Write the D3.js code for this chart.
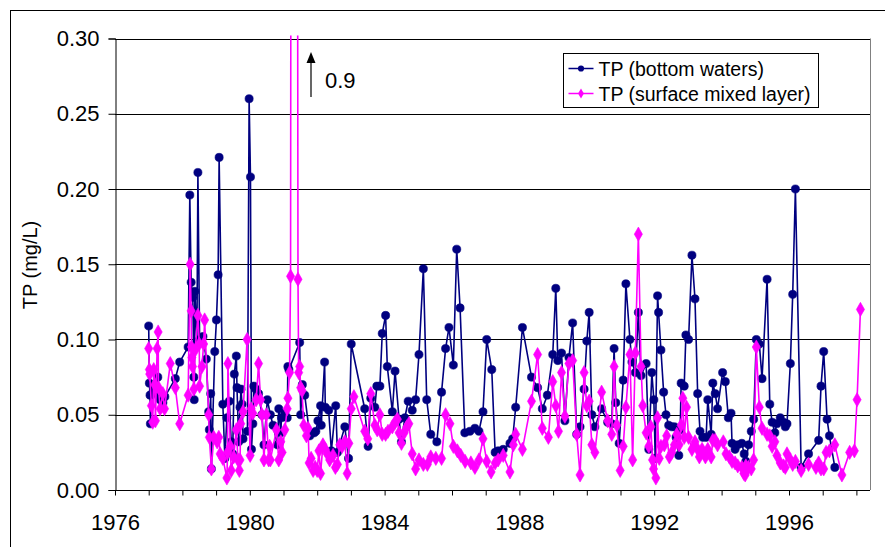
<!DOCTYPE html>
<html>
<head>
<meta charset="utf-8">
<script src="https://cdn.jsdelivr.net/npm/d3@7"></script>
<style>
  body { margin: 0; background: #fff; }
  text { font-family: "Liberation Sans", Arial, sans-serif; fill: #000; }
</style>
</head>
<body>
<div id="chart-area"></div>
<script>
// TP (mg/L), [decimal year, value]
const bottomWaters = [
  [1977.00,0.109],[1977.02,0.071],[1977.04,0.063],[1977.05,0.044],[1977.10,0.064],[1977.16,0.068],[1977.27,0.075],
  [1977.30,0.062],[1977.34,0.060],[1977.42,0.058],[1977.48,0.062],[1977.79,0.074],[1977.92,0.085],[1978.17,0.095],
  [1978.22,0.196],[1978.26,0.138],[1978.31,0.128],[1978.34,0.075],[1978.35,0.060],[1978.37,0.132],[1978.43,0.098],
  [1978.46,0.211],[1978.51,0.100],[1978.55,0.099],[1978.61,0.102],[1978.71,0.087],[1978.78,0.052],[1978.80,0.040],
  [1978.84,0.064],[1978.86,0.014],[1978.96,0.092],[1979.01,0.113],[1979.06,0.143],[1979.09,0.221],[1979.20,0.057],
  [1979.26,0.021],[1979.32,0.048],[1979.39,0.059],[1979.45,0.032],[1979.49,0.024],[1979.54,0.077],[1979.60,0.089],
  [1979.62,0.068],[1979.67,0.032],[1979.71,0.055],[1979.74,0.067],[1979.77,0.057],[1979.80,0.034],[1979.93,0.039],
  [1979.98,0.260],[1980.02,0.208],[1980.05,0.027],[1980.09,0.044],[1980.12,0.069],[1980.18,0.067],[1980.26,0.064],
  [1980.36,0.050],[1980.42,0.030],[1980.52,0.060],[1980.61,0.050],[1980.69,0.043],[1980.82,0.030],[1980.86,0.054],
  [1980.92,0.038],[1980.94,0.048],[1981.04,0.051],[1981.11,0.048],[1981.13,0.082],[1981.16,0.080],[1981.48,0.098],
  [1981.51,0.050],[1981.56,0.070],[1981.63,0.063],[1981.78,0.036],[1981.91,0.038],[1981.96,0.039],[1982.02,0.046],
  [1982.10,0.056],[1982.12,0.043],[1982.22,0.085],[1982.24,0.055],[1982.34,0.053],[1982.42,0.026],[1982.55,0.056],
  [1982.60,0.025],[1982.82,0.042],[1982.93,0.021],[1983.01,0.097],[1983.41,0.054],[1983.51,0.029],[1983.59,0.061],
  [1983.71,0.055],[1983.77,0.069],[1983.86,0.069],[1983.93,0.104],[1984.03,0.116],[1984.08,0.082],[1984.23,0.052],
  [1984.31,0.079],[1984.43,0.047],[1984.50,0.032],[1984.60,0.048],[1984.70,0.059],[1984.82,0.053],[1984.92,0.060],
  [1985.02,0.090],[1985.15,0.147],[1985.25,0.060],[1985.37,0.037],[1985.55,0.032],[1985.69,0.065],[1985.81,0.094],
  [1985.91,0.108],[1986.04,0.083],[1986.14,0.160],[1986.24,0.121],[1986.38,0.038],[1986.53,0.039],[1986.68,0.041],
  [1986.80,0.039],[1986.92,0.052],[1987.03,0.100],[1987.18,0.080],[1987.28,0.025],[1987.37,0.026],[1987.52,0.027],
  [1987.72,0.031],[1987.80,0.034],[1987.89,0.055],[1988.09,0.108],[1988.36,0.075],[1988.54,0.068],[1988.68,0.054],
  [1988.83,0.063],[1988.99,0.090],[1989.08,0.134],[1989.14,0.086],[1989.25,0.091],[1989.35,0.046],[1989.47,0.088],
  [1989.58,0.111],[1989.70,0.037],[1989.80,0.042],[1989.92,0.067],[1990.00,0.099],[1990.07,0.118],[1990.15,0.050],
  [1990.24,0.042],[1990.44,0.054],[1990.62,0.045],[1990.74,0.044],[1990.81,0.094],[1990.86,0.058],[1990.96,0.031],
  [1991.08,0.073],[1991.16,0.137],[1991.28,0.100],[1991.34,0.085],[1991.44,0.078],[1991.53,0.118],[1991.61,0.076],
  [1991.76,0.084],[1991.84,0.027],[1991.93,0.078],[1991.99,0.060],[1992.03,0.021],[1992.10,0.129],[1992.13,0.118],
  [1992.20,0.093],[1992.28,0.065],[1992.35,0.050],[1992.43,0.043],[1992.52,0.042],[1992.60,0.042],[1992.65,0.035],
  [1992.73,0.023],[1992.77,0.040],[1992.80,0.071],[1992.89,0.069],[1992.94,0.103],[1993.02,0.100],[1993.12,0.156],
  [1993.21,0.127],[1993.29,0.064],[1993.36,0.039],[1993.44,0.035],[1993.54,0.035],[1993.59,0.060],[1993.69,0.037],
  [1993.74,0.071],[1993.81,0.064],[1993.88,0.054],[1994.03,0.078],[1994.11,0.072],[1994.20,0.048],[1994.28,0.051],
  [1994.31,0.031],[1994.40,0.027],[1994.48,0.030],[1994.60,0.031],[1994.67,0.024],[1994.72,0.019],[1994.80,0.030],
  [1994.88,0.039],[1994.95,0.047],[1995.03,0.100],[1995.12,0.097],[1995.20,0.074],[1995.35,0.140],[1995.43,0.057],
  [1995.50,0.045],[1995.58,0.038],[1995.64,0.044],[1995.74,0.048],[1995.84,0.045],[1995.89,0.042],[1995.94,0.044],
  [1996.04,0.084],[1996.11,0.130],[1996.19,0.200],[1996.36,0.015],[1996.58,0.024],[1996.88,0.033],[1996.95,0.069],
  [1997.03,0.092],[1997.13,0.047],[1997.20,0.036],[1997.36,0.015]
];

const surfaceMixed = [
  [1977.00,0.094],[1977.02,0.080],[1977.03,0.077],[1977.08,0.056],[1977.12,0.045],[1977.15,0.080],[1977.18,0.070],
  [1977.20,0.046],[1977.25,0.094],[1977.28,0.105],[1977.29,0.068],[1977.34,0.054],[1977.42,0.064],[1977.47,0.054],
  [1977.64,0.084],[1977.79,0.068],[1977.92,0.044],[1978.17,0.063],[1978.23,0.150],[1978.26,0.119],[1978.27,0.095],
  [1978.28,0.088],[1978.30,0.082],[1978.34,0.067],[1978.38,0.093],[1978.46,0.116],[1978.50,0.097],[1978.51,0.069],
  [1978.58,0.082],[1978.63,0.097],[1978.66,0.113],[1978.78,0.050],[1978.80,0.035],[1978.86,0.014],[1978.93,0.035],
  [1979.03,0.032],[1979.08,0.035],[1979.12,0.024],[1979.20,0.021],[1979.32,0.008],[1979.34,0.025],[1979.35,0.084],
  [1979.42,0.029],[1979.45,0.013],[1979.52,0.022],[1979.60,0.040],[1979.65,0.020],[1979.69,0.013],[1979.71,0.020],
  [1979.73,0.044],[1979.80,0.052],[1979.92,0.100],[1980.01,0.023],[1980.04,0.054],[1980.09,0.051],[1980.19,0.060],
  [1980.26,0.084],[1980.32,0.060],[1980.36,0.050],[1980.42,0.020],[1980.49,0.050],[1980.56,0.020],[1980.59,0.029],
  [1980.61,0.020],[1980.79,0.040],[1980.86,0.020],[1980.92,0.032],[1980.96,0.025],[1981.04,0.040],[1981.11,0.054],
  [1981.13,0.061],[1981.18,0.078],[1981.21,0.142],[1981.24,0.900],[1981.39,0.900],[1981.43,0.140],[1981.45,0.078],
  [1981.48,0.082],[1981.51,0.068],[1981.55,0.066],[1981.60,0.043],[1981.68,0.036],[1981.73,0.041],[1981.76,0.018],
  [1981.82,0.021],[1981.88,0.013],[1981.94,0.015],[1982.00,0.013],[1982.05,0.026],[1982.10,0.011],[1982.17,0.030],
  [1982.24,0.027],[1982.30,0.024],[1982.37,0.020],[1982.47,0.023],[1982.54,0.015],[1982.60,0.017],[1982.67,0.030],
  [1982.74,0.029],[1982.82,0.032],[1982.89,0.011],[1982.94,0.031],[1983.01,0.054],[1983.09,0.062],[1983.41,0.039],
  [1983.50,0.034],[1983.59,0.064],[1983.71,0.043],[1983.78,0.040],[1983.86,0.050],[1983.93,0.037],[1984.03,0.037],
  [1984.10,0.039],[1984.23,0.042],[1984.31,0.045],[1984.38,0.047],[1984.43,0.038],[1984.50,0.031],[1984.58,0.038],
  [1984.66,0.042],[1984.72,0.044],[1984.82,0.024],[1984.92,0.014],[1985.02,0.020],[1985.15,0.017],[1985.27,0.017],
  [1985.37,0.022],[1985.52,0.021],[1985.69,0.021],[1985.81,0.050],[1985.94,0.044],[1986.04,0.029],[1986.16,0.026],
  [1986.26,0.023],[1986.39,0.019],[1986.56,0.018],[1986.68,0.015],[1986.80,0.020],[1986.92,0.034],[1987.03,0.019],
  [1987.16,0.012],[1987.28,0.018],[1987.37,0.020],[1987.52,0.023],[1987.72,0.012],[1987.82,0.030],[1987.89,0.037],
  [1988.09,0.027],[1988.36,0.059],[1988.54,0.090],[1988.68,0.041],[1988.86,0.035],[1988.99,0.072],[1989.08,0.056],
  [1989.16,0.039],[1989.25,0.078],[1989.35,0.049],[1989.47,0.084],[1989.58,0.086],[1989.70,0.037],[1989.80,0.010],
  [1989.92,0.078],[1990.00,0.056],[1990.07,0.059],[1990.15,0.030],[1990.24,0.025],[1990.44,0.065],[1990.62,0.046],
  [1990.74,0.037],[1990.81,0.082],[1990.89,0.043],[1990.99,0.013],[1991.08,0.029],[1991.16,0.055],[1991.28,0.090],
  [1991.36,0.020],[1991.44,0.091],[1991.53,0.170],[1991.61,0.082],[1991.66,0.056],[1991.76,0.038],[1991.84,0.029],
  [1991.90,0.042],[1991.95,0.020],[1991.98,0.014],[1992.05,0.008],[1992.10,0.048],[1992.15,0.021],[1992.20,0.029],
  [1992.30,0.030],[1992.37,0.036],[1992.45,0.022],[1992.52,0.025],[1992.60,0.030],[1992.67,0.037],[1992.74,0.030],
  [1992.80,0.043],[1992.85,0.061],[1992.89,0.035],[1992.96,0.055],[1993.02,0.035],[1993.12,0.027],[1993.21,0.032],
  [1993.29,0.027],[1993.34,0.022],[1993.42,0.027],[1993.52,0.022],[1993.59,0.027],[1993.69,0.022],[1993.74,0.033],
  [1993.81,0.033],[1993.88,0.030],[1994.05,0.032],[1994.13,0.024],[1994.23,0.022],[1994.31,0.019],[1994.40,0.018],
  [1994.48,0.016],[1994.60,0.015],[1994.66,0.011],[1994.70,0.010],[1994.72,0.016],[1994.80,0.015],[1994.88,0.014],
  [1994.95,0.020],[1995.03,0.095],[1995.12,0.055],[1995.20,0.041],[1995.35,0.037],[1995.43,0.036],[1995.50,0.029],
  [1995.58,0.032],[1995.64,0.023],[1995.74,0.018],[1995.84,0.016],[1995.89,0.015],[1995.94,0.024],[1996.04,0.020],
  [1996.11,0.017],[1996.19,0.019],[1996.36,0.013],[1996.58,0.017],[1996.80,0.015],[1996.88,0.018],[1996.95,0.014],
  [1997.03,0.014],[1997.10,0.025],[1997.20,0.026],[1997.36,0.030],[1997.57,0.010],[1997.80,0.025],[1997.94,0.026],
  [1998.02,0.060],[1998.12,0.120]
];

const seriesNames = ["TP (bottom waters)", "TP (surface mixed layer)"];
const seriesColors = ["#000080", "#ff00ff"];
const yTicks = [0, 0.05, 0.10, 0.15, 0.20, 0.25, 0.30];
const xLabelYears = [1976, 1980, 1984, 1988, 1992, 1996];
const xTickYears = d3.range(1976, 1999);
const offScaleLabel = "0.9";

const chart = {
  totalWidth: 885,
  totalHeight: 547,
  plotLeft: 115,
  plotRight: 870,
  plotTop: 38.5,
  plotBottom: 490,

  svg: undefined,
  xScale: undefined,
  yScale: undefined,

  setup: function() {
    this.svg = d3.select("#chart-area")
      .append("svg")
        .attr("width", this.totalWidth)
        .attr("height", this.totalHeight);

    this.svg.append("rect")
      .attr("width", this.totalWidth)
      .attr("height", this.totalHeight)
      .attr("fill", "#fff");

    // outer chart border
    this.svg.append("rect")
      .attr("x", 10.5).attr("y", 10.5)
      .attr("width", 900).attr("height", 600)
      .attr("fill", "none")
      .attr("stroke", "#000");

    this.xScale = d3.scaleLinear()
      .domain([1976, 1976 + (this.plotRight - this.plotLeft) / 33.7])
      .range([this.plotLeft, this.plotRight]);

    this.yScale = d3.scaleLinear()
      .domain([0, 0.3])
      .range([this.plotBottom, this.plotTop]);

    this.svg.append("defs").append("clipPath")
      .attr("id", "plot-clip")
      .append("rect")
        .attr("x", this.plotLeft - 6)
        .attr("y", this.plotTop - 3)
        .attr("width", this.plotRight - this.plotLeft + 6)
        .attr("height", this.plotBottom - this.plotTop + 10);
  },

  addAxes: function() {
    const y = this.yScale, x = this.xScale;

    // gridlines
    this.svg.append("g").selectAll("line")
      .data(yTicks.filter(d => d > 0))
      .join("line")
        .attr("x1", this.plotLeft).attr("x2", this.plotRight)
        .attr("y1", d => Math.round(y(d)) + 0.5)
        .attr("y2", d => Math.round(y(d)) + 0.5)
        .attr("stroke", "#000");

    // right plot border
    this.svg.append("line")
      .attr("x1", this.plotRight + 0.5).attr("x2", this.plotRight + 0.5)
      .attr("y1", this.plotTop).attr("y2", this.plotBottom)
      .attr("stroke", "#808080");

    const yAxisCall = d3.axisLeft(y)
      .tickValues(yTicks)
      .tickSize(7)
      .tickPadding(9)
      .tickFormat(d3.format(".2f"));
    const yAxis = this.svg.append("g")
      .attr("transform", "translate(" + (this.plotLeft + 0.5) + ",0)")
      .call(yAxisCall);

    const xAxisCall = d3.axisBottom(x)
      .tickValues(xTickYears)
      .tickSize(5)
      .tickPadding(19)
      .tickFormat(d => xLabelYears.includes(d) ? d : "");
    const xAxis = this.svg.append("g")
      .attr("transform", "translate(0," + (this.plotBottom + 0.5) + ")")
      .call(xAxisCall);

    [yAxis, xAxis].forEach(a => {
      a.select(".domain").attr("stroke", "#000");
      a.selectAll(".tick line").attr("stroke", "#000");
      a.selectAll("text")
        .attr("font-size", "22px")
        .attr("font-family", "'Liberation Sans', Arial, sans-serif")
        .attr("fill", "#000");
    });
    xAxis.select(".domain").attr("d", "M" + this.plotLeft + ",0H" + this.plotRight);

    // y label
    this.svg.append("text")
      .attr("transform", "rotate(-90)")
      .attr("x", -265)
      .attr("y", 37)
      .attr("font-size", "20px")
      .attr("text-anchor", "middle")
      .text("TP (mg/L)");
  },

  addSeries: function(data, i) {
    const x = this.xScale, y = this.yScale;
    const g = this.svg.append("g").attr("clip-path", "url(#plot-clip)");

    const line = d3.line()
      .x(d => x(d[0]))
      .y(d => y(d[1]));

    g.append("path")
      .datum(data)
      .attr("fill", "none")
      .attr("stroke", seriesColors[i])
      .attr("stroke-width", 1.6)
      .attr("stroke-linejoin", "round")
      .attr("d", line);

    const symbol = i === 0
      ? d3.symbol().type(d3.symbolCircle).size(52)
      : d3.symbol().type(d3.symbolDiamond).size(58);

    g.selectAll(".marker")
      .data(data.filter(d => d[1] <= 0.3))
      .join("path")
        .attr("class", "marker")
        .attr("transform", d => "translate(" + x(d[0]) + "," + y(d[1]) + ")")
        .attr("d", symbol)
        .attr("fill", seriesColors[i])
        .attr("stroke", seriesColors[i])
        .attr("stroke-width", 0.6);
  },

  addAnnotation: function() {
    const ax = 311;
    this.svg.append("line")
      .attr("x1", ax).attr("x2", ax)
      .attr("y1", 97).attr("y2", 60)
      .attr("stroke", "#000")
      .attr("stroke-width", 1.2);
    this.svg.append("path")
      .attr("d", "M" + ax + ",52L" + (ax - 4.5) + ",63L" + (ax + 4.5) + ",63Z")
      .attr("fill", "#000");
    this.svg.append("text")
      .attr("x", 325)
      .attr("y", 88)
      .attr("font-size", "22px")
      .text(offScaleLabel);
  },

  addLegend: function() {
    const legend = this.svg.append("g")
      .attr("transform", "translate(563.5,53.5)");

    legend.append("rect")
      .attr("width", 255)
      .attr("height", 54)
      .attr("fill", "#fff")
      .attr("stroke", "#000");

    seriesNames.forEach((name, i) => {
      const row = legend.append("g")
        .attr("transform", "translate(0," + (15 + i * 25) + ")");

      row.append("line")
        .attr("x1", 5).attr("x2", 30)
        .attr("stroke", seriesColors[i])
        .attr("stroke-width", 1.5);

      row.append("path")
        .attr("transform", "translate(17.5,0)")
        .attr("d", i === 0
          ? d3.symbol().type(d3.symbolCircle).size(30)()
          : d3.symbol().type(d3.symbolDiamond).size(30)())
        .attr("fill", seriesColors[i]);

      row.append("text")
        .attr("x", 35)
        .attr("y", 7)
        .attr("font-size", "19.5px")
        .text(name);
    });
  },

  start: function() {
    this.setup();
    this.addAxes();
    this.addSeries(bottomWaters, 0);
    this.addSeries(surfaceMixed, 1);
    this.addAnnotation();
    this.addLegend();
  }
};

chart.start();
</script>
</body>
</html>
